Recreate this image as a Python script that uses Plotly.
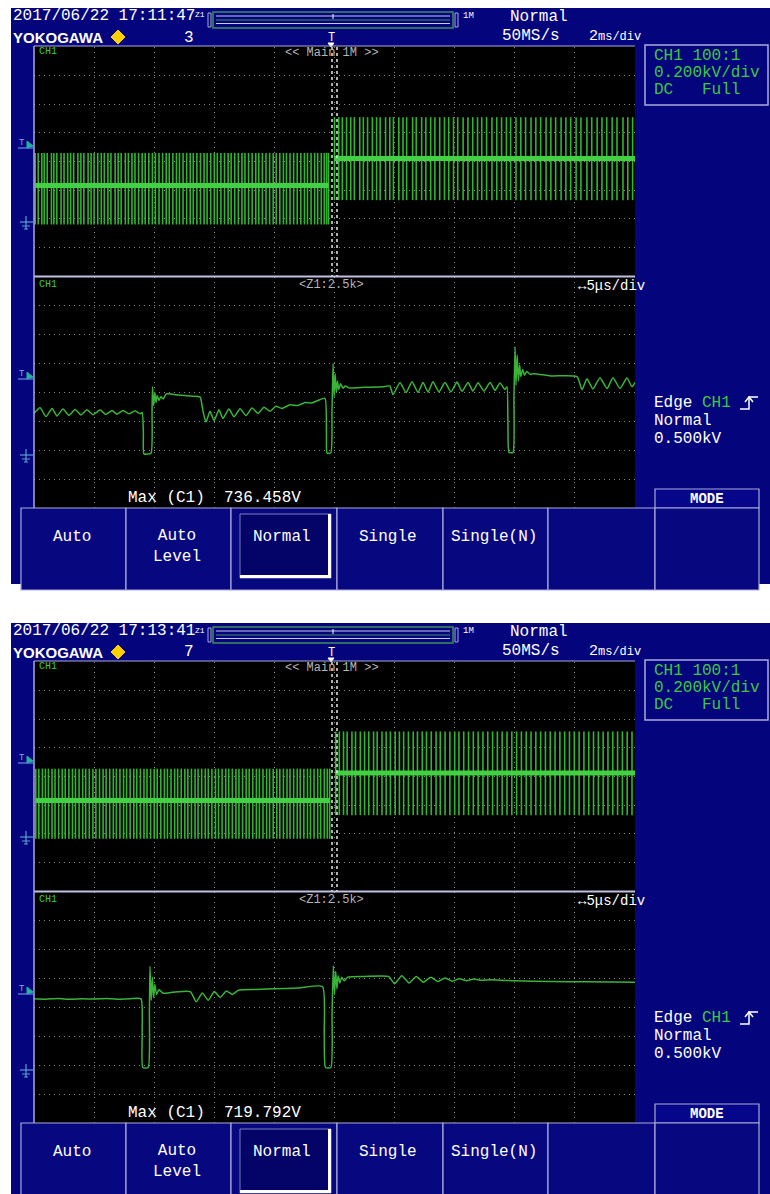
import plotly.graph_objects as go

W, H = 770, 1194
OFF2 = 615
MONO = "Liberation Mono"
SANS = "Liberation Sans"

# ---------------- data ----------------
s1_stamp, s2_stamp = "2017/06/22 17:11:47", "2017/06/22 17:13:41"
s1_count, s2_count = "3", "7"
s1_max, s2_max = "736.458V", "719.792V"

# main window (ms, V): burst pulse positions
s1_left_ms = [0.04, 0.14, 0.26, 0.34, 0.44, 0.58, 0.66, 0.76, 0.9, 1.0, 1.12, 1.22, 1.32, 1.46, 1.56,
              1.66, 1.8, 1.9, 2.0, 2.12, 2.24, 2.34, 2.46, 2.56, 2.7, 2.8, 2.9, 3.04, 3.14, 3.26, 3.36,
              3.48, 3.6, 3.7, 3.82, 3.94, 4.04, 4.16, 4.28, 4.4, 4.5, 4.62, 4.74, 4.84, 4.96, 5.08,
              5.2, 5.3, 5.42, 5.54, 5.66, 5.76, 5.88, 6.0, 6.1, 6.22, 6.34, 6.46, 6.56, 6.68, 6.8,
              6.92, 7.02, 7.14, 7.26, 7.38, 7.48, 7.6, 7.72, 7.84, 7.96, 8.06, 8.18, 8.3, 8.4, 8.52,
              8.64, 8.76, 8.88, 9.0, 9.1, 9.22, 9.34, 9.44, 9.56, 9.66, 9.74, 9.8]
s1_right_ms = [10.0, 10.14, 10.26, 10.4, 10.54, 10.66, 10.84, 10.96, 11.1, 11.26, 11.4, 11.52, 11.7,
               11.84, 11.96, 12.14, 12.28, 12.4, 12.6, 12.72, 12.9, 13.04, 13.2, 13.34, 13.5, 13.66,
               13.8, 13.96, 14.1, 14.28, 14.44, 14.6, 14.76, 14.9, 15.06, 15.24, 15.4, 15.56, 15.72,
               15.86, 16.04, 16.2, 16.36, 16.54, 16.7, 16.86, 17.04, 17.2, 17.36, 17.54, 17.7, 17.86,
               18.04, 18.2, 18.4, 18.56, 18.74, 18.9, 19.06, 19.24, 19.4, 19.6, 19.76, 19.92]
s2_left_ms = [0.06, 0.16, 0.28, 0.38, 0.48, 0.6, 0.7, 0.82, 0.94, 1.04, 1.16, 1.28, 1.38, 1.5, 1.62,
              1.72, 1.84, 1.96, 2.06, 2.18, 2.3, 2.4, 2.52, 2.64, 2.74, 2.86, 2.98, 3.08, 3.2, 3.32,
              3.42, 3.54, 3.66, 3.76, 3.88, 4.0, 4.1, 4.22, 4.34, 4.44, 4.56, 4.68, 4.78, 4.9, 5.02,
              5.12, 5.24, 5.36, 5.46, 5.58, 5.7, 5.8, 5.92, 6.04, 6.14, 6.26, 6.38, 6.48, 6.6, 6.72,
              6.82, 6.94, 7.06, 7.16, 7.28, 7.4, 7.5, 7.62, 7.74, 7.84, 7.96, 8.08, 8.18, 8.3, 8.42,
              8.52, 8.64, 8.76, 8.86, 8.98, 9.1, 9.2, 9.32, 9.44, 9.54, 9.66, 9.76, 9.84]
s2_right_ms = [10.04, 10.16, 10.3, 10.42, 10.58, 10.7, 10.86, 11.0, 11.14, 11.3, 11.42, 11.58, 11.72,
               11.86, 12.02, 12.16, 12.3, 12.46, 12.62, 12.76, 12.92, 13.06, 13.22, 13.38, 13.52,
               13.68, 13.84, 14.0, 14.14, 14.3, 14.46, 14.62, 14.78, 14.94, 15.1, 15.26, 15.42, 15.58,
               15.74, 15.9, 16.06, 16.22, 16.38, 16.54, 16.7, 16.86, 17.02, 17.18, 17.34, 17.5, 17.66,
               17.82, 17.98, 18.14, 18.3, 18.46, 18.62, 18.78, 18.94, 19.1, 19.26, 19.42, 19.58, 19.74, 19.9]
# levels in main window (V): [left base, left top, left bottom, right base, right top, right bottom]
s1_levels = [262, 490, -10, 451, 740, 160]
s2_levels = [262, 485, -5, 455, 745, 160]

# zoom window (us, V)
z1_t = [0.0, 0.5, 1.0, 1.5, 1.91, 2.41, 2.91, 3.41, 3.91, 4.41, 4.91, 5.49, 5.99, 6.49, 6.9, 7.4, 7.9,
        8.4, 8.82, 9.0, 9.1, 9.15, 9.73, 9.82, 9.86, 9.95, 10.05, 10.15, 10.25, 10.4, 10.55, 10.75, 11.0,
        12.0, 13.0, 13.81, 14.06, 14.31, 14.64, 14.98, 15.39, 15.72, 16.22, 16.64, 17.14, 17.64, 18.14,
        18.64, 19.13, 19.63, 20.13, 20.63, 21.3, 21.96, 22.55, 23.13, 23.63, 24.21, 24.33, 24.38, 24.7,
        24.79, 24.88, 24.97, 25.06, 25.15, 25.25, 25.35, 25.5, 25.7, 25.9, 26.2, 27.5, 29.0, 29.6, 29.87,
        30.45, 30.95, 31.45, 31.95, 32.36, 32.78, 33.19, 33.69, 34.19, 34.69, 35.19, 35.61, 36.11, 36.52,
        36.94, 37.44, 37.94, 38.35, 38.77, 39.18, 39.35, 39.43, 39.52, 39.85, 39.93, 40.02, 40.1, 40.2,
        40.3, 40.4, 40.5, 40.65, 40.8, 41.0, 41.3, 41.6, 43.0, 45.17, 45.59, 46.0, 46.5, 47.09, 47.67,
        48.17, 48.75, 49.33, 49.75, 50.0]
z1_v = [285, 325, 262, 320, 268, 315, 272, 312, 275, 310, 276, 308, 278, 305, 280, 305, 282,
        303, 283, 292, 150, 5, 10, 300, 470, 340, 430, 360, 410, 375, 400, 385, 420,
        412, 405, 400, 300, 225, 300, 235, 310, 250, 315, 262, 318, 270, 322,
        285, 328, 300, 335, 320, 345, 340, 360, 358, 375, 390, 150, 10, 12,
        300, 630, 400, 560, 430, 510, 450, 490, 460, 475, 462, 466, 470, 475, 415,
        500, 430, 505, 430, 500, 432, 505, 435, 500, 435, 502, 438, 500, 440,
        498, 440, 500, 445, 495, 450, 470, 200, 15, 15, 400, 746, 480, 690,
        510, 620, 540, 590, 550, 575, 555, 560, 545, 540, 450, 525, 455, 533, 457,
        533, 457, 530, 470, 500]
z2_t = [0.0, 1.0, 2.0, 3.0, 4.0, 5.0, 6.0, 7.0, 8.0, 8.9, 9.0, 9.05, 9.5, 9.6, 9.65, 9.75, 9.85, 9.95,
        10.05, 10.2, 10.4, 10.7, 11.5, 13.0, 13.5, 14.0, 14.5, 15.0, 15.5, 16.0, 16.5, 17.0, 18.5, 20.0,
        22.0, 24.0, 24.15, 24.25, 24.7, 24.8, 24.9, 25.0, 25.1, 25.2, 25.3, 25.45, 25.6, 25.8, 26.1, 27.5,
        29.5, 30.0, 30.6, 31.2, 31.8, 32.4, 33.0, 33.6, 34.2, 34.8, 35.4, 36.0, 36.6, 37.2, 38.0, 40.0,
        43.0, 46.0, 50.0]
z2_v = [490, 488, 492, 487, 490, 489, 492, 488, 491, 490, 250, 15, 15, 400, 715, 480, 640, 500,
        590, 520, 555, 530, 535, 540, 470, 530, 480, 540, 500, 545, 520, 550, 555, 560,
        565, 575, 250, 15, 15, 400, 720, 520, 680, 560, 650, 600, 640, 615, 640, 645,
        645, 595, 650, 600, 645, 605, 640, 610, 635, 612, 630, 615, 628, 618, 622, 615,
        610, 608, 605]

# ---------------- helpers ----------------
def PX(x):
    return x / W


def PY(y):
    return 1 - y / H


shapes, annos = [], []
NAVY = "#04047c"
LAV = "#a9a9d9"
GRN = "#3fc83f"


def rect(x0, y0, x1, y1, fill=None, line=None, lw=1.0):
    shapes.append(dict(type="rect", xref="paper", yref="paper", x0=PX(x0), x1=PX(x1),
                       y0=PY(y1), y1=PY(y0), fillcolor=fill or "rgba(0,0,0,0)",
                       line=dict(color=line or "rgba(0,0,0,0)", width=lw if line else 0),
                       layer="below"))


def hline(x0, x1, y, color=LAV, lw=1.0, dash="solid"):
    shapes.append(dict(type="line", xref="paper", yref="paper", x0=PX(x0), x1=PX(x1),
                       y0=PY(y), y1=PY(y), line=dict(color=color, width=lw, dash=dash)))


def vline(x, y0, y1, color=LAV, lw=1.0, dash="solid"):
    shapes.append(dict(type="line", xref="paper", yref="paper", x0=PX(x), x1=PX(x),
                       y0=PY(y0), y1=PY(y1), line=dict(color=color, width=lw, dash=dash)))


def path(pts, fill=None, color="white", lw=1.0, closed=False):
    d = "M " + " L ".join(f"{PX(a):.5f},{PY(b):.5f}" for a, b in pts)
    if closed:
        d += " Z"
    shapes.append(dict(type="path", xref="paper", yref="paper", path=d,
                       fillcolor=fill or "rgba(0,0,0,0)", line=dict(color=color, width=lw)))


def txt(x, y, s, size=16, color="white", anchor="left", family=MONO):
    annos.append(dict(x=PX(x), y=PY(y), xref="paper", yref="paper", text=s, showarrow=False,
                      xanchor=anchor, yanchor="middle", font=dict(family=family, size=size, color=color)))


fig = go.Figure()


def screen(o, stamp, count, maxv, left_ms, right_ms, lv, zt, zv, ax_main, ax_zoom):
    # backgrounds
    rect(11, 8 + o, 770, 584 + o, fill=NAVY)
    rect(34, 46 + o, 635, 508 + o, fill="black")
    # header
    txt(11, 16 + o, stamp, 16)
    txt(193, 15 + o, "Z1", 8)
    rect(208, 13 + o, 211, 27 + o, line=LAV, lw=1)
    rect(213, 12 + o, 453, 28 + o, line="#3f8f5f", lw=1.5)
    hline(216, 450, 16 + o, color="#c8c8ee", lw=1.2)
    hline(216, 450, 23.5 + o, color="#c8c8ee", lw=1.2)
    hline(216, 450, 20 + o, color="#3f8f5f", lw=1)
    vline(333, 14 + o, 19 + o, color="white", lw=1)
    rect(455, 13 + o, 458, 27 + o, line=LAV, lw=1)
    txt(461, 16 + o, "1M", 9)
    txt(508, 17 + o, "Normal", 16)
    annos.append(dict(x=PX(11), y=PY(37.5 + o), xref="paper", yref="paper", text="<b>YOKOGAWA</b>",
                      showarrow=False, xanchor="left", yanchor="middle",
                      font=dict(family=SANS, size=15, color="white")))
    path([(118, 30 + o), (125, 37 + o), (118, 44 + o), (111, 37 + o)], fill="#ffd000", color="#ffd000",
         closed=True)
    txt(189, 37.5 + o, count, 16, anchor="center")
    txt(331, 38 + o, "T", 12, anchor="center")
    path([(328, 43 + o), (334, 43 + o), (331, 47 + o)], fill="white", color="white", closed=True)
    txt(500, 36 + o, "50MS/s", 16)
    txt(587, 36 + o, "2<span style='font-size:12px'>ms/div</span>", 15)
    # right info panel
    rect(645, 45 + o, 768, 105 + o, line=LAV, lw=1.5)
    txt(652, 56 + o, "CH1 100:1", 16, color=GRN)
    txt(652, 73 + o, "0.200kV/div", 16, color=GRN)
    txt(652, 90 + o, "DC   Full", 16, color=GRN)
    txt(652, 403 + o, "Edge <span style='color:#3fc83f'>CH1</span>", 16)
    path([(740, 409 + o), (749, 409 + o), (749, 397 + o), (758, 397 + o)], color="white", lw=1.5)
    path([(745, 402 + o), (749, 397 + o), (753, 402 + o)], color="white", lw=1.5)
    txt(652, 421 + o, "Normal", 16)
    txt(652, 439 + o, "0.500kV", 16)
    # panel borders
    hline(34, 635, 46 + o, color=LAV, lw=1.2)
    hline(34, 635, 276.5 + o, color="#c0c0e0", lw=2)
    vline(34, 46 + o, 508 + o, color=LAV, lw=1.5)
    # zoom-window markers on main panel
    vline(332, 47 + o, 276 + o, color="#e8e8e8", lw=1.5, dash="dot")
    vline(337, 47 + o, 276 + o, color="#e8e8e8", lw=1.5, dash="dot")
    # panel captions
    txt(37, 51 + o, "CH1", 10, color=GRN)
    txt(283, 53 + o, "<< Main 1M >>", 12, color="#b4b4b4")
    txt(37, 284 + o, "CH1", 10, color=GRN)
    txt(297, 285 + o, "<Z1:2.5k>", 12, color="#b4b4b4")
    txt(576, 286 + o, "↔5μs/div", 14)
    # trigger & ground markers
    for ty, gy in ((146, 222), (377, 455)):
        txt(22, ty - 3 + o, "T", 9, color="#7ea6ff", anchor="center")
        hline(18, 33, ty + 2 + o, color="#7ea6ff", lw=1)
        path([(27, ty - 5 + o), (33, ty + o), (27, ty + 2 + o)], fill="#22b49a", color="#22b49a", closed=True)
        hline(20, 33, gy + o, color="#5aa0d0", lw=1.2)
        vline(26, gy - 6 + o, gy + 7 + o, color="#5aa0d0", lw=1.2)
        hline(22, 30, gy + 4 + o, color="#5aa0d0", lw=1)
        hline(24, 28, gy + 7 + o, color="#5aa0d0", lw=1)
    # measurement
    txt(126, 498 + o, "Max (C1)  " + maxv, 16)
    # MODE box and buttons
    rect(655, 489 + o, 759, 508 + o, fill="#06068a", line=LAV, lw=1.2)
    txt(707, 498.5 + o, "<b>MODE</b>", 14, anchor="center")
    edges = [21, 126, 231, 337, 443, 548, 655, 759]
    labels = ["Auto", "Auto<br>Level", "Normal", "Single", "Single(N)", "", ""]
    for i in range(7):
        rect(edges[i], 508 + o, edges[i + 1], 590 + o, fill="#07077f", line=LAV, lw=1.2)
        if labels[i]:
            txt((edges[i] + edges[i + 1]) / 2 - 2, (546 if "<br>" in labels[i] else 537) + o,
                labels[i], 16, anchor="center")
    rect(240, 514 + o, 331, 578 + o, fill="#030368", line="#8080c0", lw=1)
    hline(240, 331, 576.5 + o, color="white", lw=3)
    vline(329.5, 514 + o, 578 + o, color="white", lw=3)

    # ---- traces: main window ----
    lb, lt, lbt, rb, rt, rbt = lv
    xs, ys = [], []
    for t in left_ms:
        xs += [t, t, None]
        ys += [lt, lbt, None]
    for t in right_ms:
        xs += [t, t, None]
        ys += [rt, rbt, None]
    fig.add_trace(go.Scatter(x=xs, y=ys, mode="lines", line=dict(color="#2fb62f", width=1.6),
                             xaxis=ax_main[0], yaxis=ax_main[1], hoverinfo="skip", showlegend=False))
    fig.add_trace(go.Scatter(x=[left_ms[0], left_ms[-1], None, right_ms[0], 20],
                             y=[lb, lb, None, rb, rb], mode="lines",
                             line=dict(color="#44d044", width=5),
                             xaxis=ax_main[0], yaxis=ax_main[1], hoverinfo="skip", showlegend=False))
    # ---- traces: zoom window ----
    fig.add_trace(go.Scatter(x=zt, y=zv, mode="lines", line=dict(color="#39b439", width=1.5,
                                                                 shape="spline", smoothing=0.5),
                             xaxis=ax_zoom[0], yaxis=ax_zoom[1], hoverinfo="skip", showlegend=False))


screen(0, s1_stamp, s1_count, s1_max, s1_left_ms, s1_right_ms, s1_levels, z1_t, z1_v,
       ("x", "y"), ("x2", "y2"))
screen(OFF2, s2_stamp, s2_count, s2_max, s2_left_ms, s2_right_ms, s2_levels, z2_t, z2_v,
       ("x3", "y3"), ("x4", "y4"))

axcommon = dict(showticklabels=False, ticks="", zeroline=False, showline=False, showgrid=True,
                gridcolor="#8a8a8a", gridwidth=1, griddash="1px,4px")
XDOM = [PX(34), PX(635)]
lay = dict(width=W, height=H, margin=dict(l=0, r=0, t=0, b=0), paper_bgcolor="white",
           plot_bgcolor="rgba(0,0,0,0)", showlegend=False, shapes=shapes, annotations=annos)
panels = [(1, 0, "main"), (2, 0, "zoom"), (3, OFF2, "main"), (4, OFF2, "zoom")]
for n, o, kind in panels:
    sx = "" if n == 1 else str(n)
    if kind == "main":
        ydom = [PY(276 + o), PY(47 + o)]
        xr, dt = [0, 20], 2
    else:
        ydom = [PY(508 + o), PY(277 + o)]
        xr, dt = [0, 50], 5
    lay["xaxis" + sx] = dict(domain=XDOM, range=xr, dtick=dt, tick0=0, anchor="y" + sx, **axcommon)
    lay["yaxis" + sx] = dict(domain=ydom, range=[-370, 1230], dtick=200, tick0=30, anchor="x" + sx,
                             **axcommon)
fig.update_layout(**lay)
fig.write_html("out.html", config={"displayModeBar": False},
               post_script="document.body.style.margin='0';document.body.style.overflow='hidden';")
